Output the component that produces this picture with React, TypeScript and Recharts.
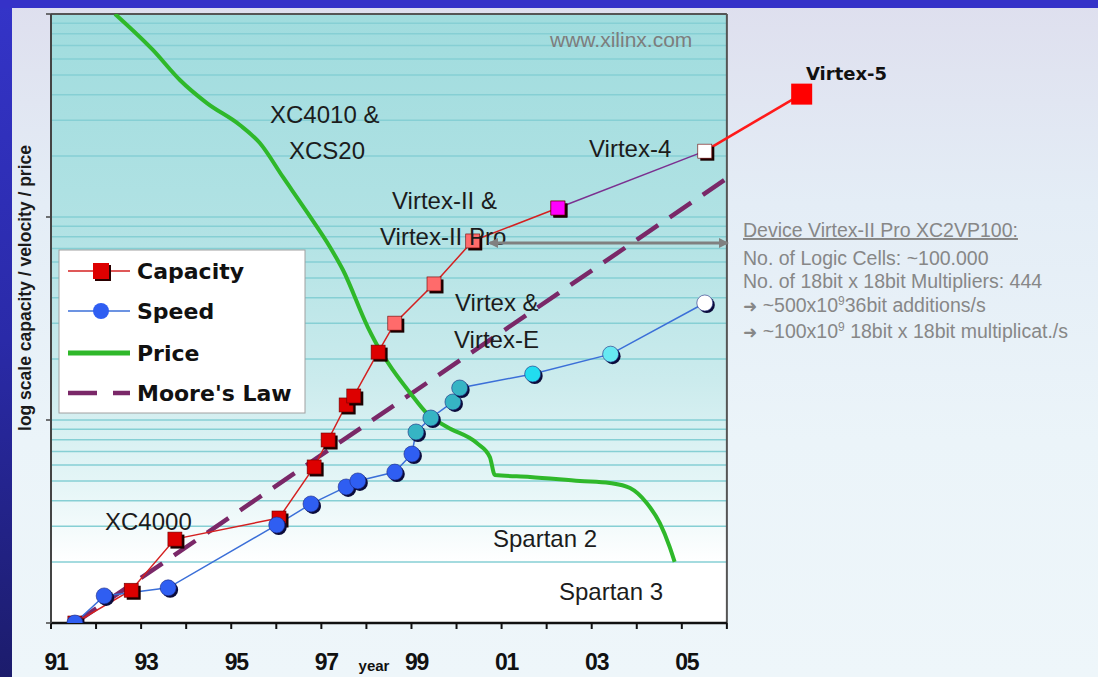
import React from 'react';
import { ComposedChart, Line, XAxis, YAxis, ReferenceArea, ReferenceLine } from 'recharts';

// Years are counted from 1900, so 101 means 2001.
const yearTicks = [91, 92, 93, 94, 95, 96, 97, 98, 99, 100, 101, 102, 103, 104, 105, 106];
const labelledYears = [91, 93, 95, 97, 99, 101, 103, 105];
const decadeTicks = [1, 10, 100, 1000];
const gridValues = [
  2, 3, 4, 5, 6, 7, 8, 9, 10,
  20, 30, 40, 50, 60, 70, 80, 90, 100,
  200, 300, 400, 500, 600, 700, 800, 900,
];

// Capacity (logic density), XC2000 .. Virtex-II Pro
const capacityYears = [91.53, 92.78, 93.75, 96.06, 96.84, 97.15, 97.55, 97.72, 98.26, 98.63, 99.5, 100.36, 102.25];
const capacityValues = [1, 1.45, 2.59, 3.29, 5.87, 7.97, 11.86, 13.13, 21.6, 30.0, 46.8, 76.2, 110.7];
const capacityColors = [
  '#dd0000', '#dd0000', '#dd0000', '#dd0000', '#dd0000', '#dd0000', '#dd0000', '#dd0000', '#dd0000',
  '#ff6b6b', '#ff6b6b', '#ff6b6b', '#ff00ff',
];

// Virtex-II Pro -> Virtex-4
const virtex4Years = [102.25, 105.51];
const virtex4Values = [110.7, 211];
const virtex4Colors = ['#ff00ff', '#ffffff'];

// Virtex-4 -> Virtex-5
const virtex5Years = [105.51, 107.66];
const virtex5Values = [211, 403];

const speedYears = [91.53, 92.18, 93.6, 96.01, 96.77, 97.55, 97.81, 98.63, 99.01, 99.1, 99.43, 99.92, 100.07, 101.69, 103.42, 105.51];
const speedValues = [1, 1.36, 1.49, 3.04, 3.86, 4.68, 5.01, 5.54, 6.8, 8.73, 10.23, 12.27, 14.38, 16.85, 21.1, 37.7];
const speedColors = [
  '#2f5ef2', '#2f5ef2', '#2f5ef2', '#2f5ef2', '#2f5ef2', '#2f5ef2', '#2f5ef2', '#2f5ef2', '#2f5ef2',
  '#36b4c4', '#36b4c4', '#36b4c4', '#36b4c4', '#22dcef', '#66e9f2', '#ffffff',
];

const priceYears = [
  92.42, 93.26, 93.86, 94.46, 95.19, 95.63, 96.15, 96.69, 97.19, 97.48, 98.03, 98.3, 98.59, 98.97,
  99.34, 99.79, 100.45, 100.74, 100.85, 101.63, 102.74, 103.4, 103.85, 104.22, 104.51, 104.73, 104.84,
];
const priceValues = [
  1000, 665, 473, 364, 284, 232, 157, 105, 71.2, 54.8, 28.7, 22.1, 17.6, 13.6,
  10.8, 9.24, 7.7, 6.57, 5.36, 5.24, 5.01, 4.89, 4.62, 3.9, 3.11, 2.37, 2.0,
];

const mooreYears = [91.53, 106];
const mooreValues = [1, 155];

const legendItems = ['Capacity', 'Speed', 'Price', "Moore's Law"];

const toPoints = (years: number[], values: number[]) =>
  years.map((year, i) => ({ year, value: values[i] }));

const capacityData = toPoints(capacityYears, capacityValues);
const virtex4Data = toPoints(virtex4Years, virtex4Values);
const virtex5Data = toPoints(virtex5Years, virtex5Values);
const speedData = toPoints(speedYears, speedValues);
const priceData = toPoints(priceYears, priceValues);
const mooreData = toPoints(mooreYears, mooreValues);

const RED = '#d42020';
const BLUE = '#3b6fd8';
const GREEN = '#2fb82a';
const PURPLE = '#7a2868';
const ANNOT_FONT = '"Liberation Sans", Arial, sans-serif';
const BOLD_FONT = '"DejaVu Sans", Verdana, sans-serif';

const squareDot = (colors: string[]) => (props: any) => {
  const { cx, cy, index } = props;
  if (cx == null || cy == null) return <g key={`sq-${index}`} />;
  return (
    <g key={`sq-${index}`}>
      <rect x={cx - 7 + 2.5} y={cy - 7 + 2.5} width={14} height={14} fill="#1a0000" />
      <rect x={cx - 7} y={cy - 7} width={14} height={14} fill={colors[index]} stroke="#6a0000" strokeWidth={0.6} />
    </g>
  );
};

// Virtex-5 gets a larger flat square; the start point belongs to the Virtex-4 series
const virtex5Dot = (props: any) => {
  const { cx, cy, index } = props;
  if (index === 0 || cx == null || cy == null) return <g key={`v5-${index}`} />;
  return <rect key={`v5-${index}`} x={cx - 10.5} y={cy - 10.5} width={21} height={21} fill="#ff0000" />;
};

const circleDot = (colors: string[]) => (props: any) => {
  const { cx, cy, index } = props;
  if (cx == null || cy == null) return <g key={`c-${index}`} />;
  return (
    <g key={`c-${index}`}>
      <circle cx={cx + 2} cy={cy + 2} r={8} fill="#0b0b3a" />
      <circle cx={cx} cy={cy} r={8} fill={colors[index]} stroke="#1e2a80" strokeWidth={0.6} />
    </g>
  );
};

const YearTick = (props: any) => {
  const { x, y, payload } = props;
  if (!labelledYears.includes(payload.value)) return <g />;
  return (
    <text
      x={x + 5}
      y={y + 41}
      textAnchor="middle"
      fontFamily={ANNOT_FONT}
      fontWeight="bold"
      fontSize={23}
      letterSpacing={-1.2}
      fill="#111"
    >
      {String(payload.value % 100).padStart(2, '0')}
    </text>
  );
};

const Annotation = ({ x, y, children, size = 24 }: any) => (
  <text x={x} y={y} fontFamily={ANNOT_FONT} fontSize={size} fill="#1c1c1c">
    {children}
  </text>
);

export default function App() {
  return (
    <div
      style={{
        position: 'absolute',
        left: 0,
        top: 0,
        width: 1098,
        height: 677,
        overflow: 'hidden',
        background: 'linear-gradient(180deg, #dedfee 0%, #e4edf6 30%, #ebf4f9 65%, #eef6fa 100%)',
      }}
    >
      {/* slide frame */}
      <div
        style={{
          position: 'absolute',
          left: 0,
          top: 0,
          width: 12,
          height: 677,
          background: 'linear-gradient(180deg, #3434c8 0%, #2a2aa8 50%, #1c1c6c 100%)',
        }}
      />
      <div style={{ position: 'absolute', left: 0, top: 0, width: 1098, height: 8, background: '#3532c8' }} />

      <div style={{ position: 'absolute', left: 0, top: 0 }}>
        <ComposedChart width={1098} height={677} margin={{ top: 14, right: 281, bottom: 14, left: 41 }}>
          <defs>
            <linearGradient id="plotFill" x1="0" y1="0" x2="0" y2="1">
              <stop offset="0%" stopColor="#a0dcde" />
              <stop offset="35%" stopColor="#b1e2e4" />
              <stop offset="60%" stopColor="#cbebed" />
              <stop offset="78%" stopColor="#e6f6f7" />
              <stop offset="90%" stopColor="#ffffff" />
              <stop offset="100%" stopColor="#ffffff" />
            </linearGradient>
          </defs>

          <XAxis
            type="number"
            dataKey="year"
            domain={[91, 108]}
            ticks={yearTicks}
            axisLine={false}
            tickLine={{ stroke: '#111', strokeWidth: 2 }}
            tickSize={6}
            tickMargin={0}
            tick={<YearTick />}
            height={40}
            interval={0}
          />
          <YAxis
            type="number"
            scale="log"
            domain={[1, 1000]}
            allowDataOverflow
            ticks={decadeTicks}
            tickFormatter={() => ''}
            axisLine={{ stroke: '#444', strokeWidth: 2 }}
            tickLine={{ stroke: '#444', strokeWidth: 1.5 }}
            tickSize={5}
            width={10}
          />

          <ReferenceArea x1={91} x2={106} y1={1} y2={1000} fill="url(#plotFill)" fillOpacity={1} stroke="none" zIndex={-300} />
          {gridValues.map((v) => (
            <ReferenceLine
              key={v}
              segment={[{ x: 91, y: v }, { x: 106, y: v }]}
              stroke="#86cfd4"
              strokeWidth={1.5}
              zIndex={-200}
            />
          ))}
          <ReferenceLine segment={[{ x: 91, y: 1000 }, { x: 106, y: 1000 }]} stroke="#555" strokeWidth={2} zIndex={-150} />
          <ReferenceLine segment={[{ x: 106, y: 1 }, { x: 106, y: 1000 }]} stroke="#555" strokeWidth={2} zIndex={-150} />
          <ReferenceLine segment={[{ x: 91, y: 1 }, { x: 106, y: 1 }]} stroke="#111" strokeWidth={2.5} zIndex={-150} />

          <Line
            data={mooreData}
            dataKey="value"
            type="linear"
            stroke={PURPLE}
            strokeWidth={4.5}
            strokeDasharray="26 14"
            dot={false}
            isAnimationActive={false}
          />
          <Line
            data={priceData}
            dataKey="value"
            type="monotone"
            stroke={GREEN}
            strokeWidth={4}
            dot={false}
            isAnimationActive={false}
          />
          <Line
            data={virtex5Data}
            dataKey="value"
            type="linear"
            stroke="#ff1a1a"
            strokeWidth={2.5}
            dot={virtex5Dot}
            isAnimationActive={false}
          />
          <Line
            data={capacityData}
            dataKey="value"
            type="linear"
            stroke={RED}
            strokeWidth={1.5}
            dot={squareDot(capacityColors)}
            isAnimationActive={false}
          />
          <Line
            data={virtex4Data}
            dataKey="value"
            type="linear"
            stroke="#7b3090"
            strokeWidth={1.5}
            dot={squareDot(virtex4Colors)}
            isAnimationActive={false}
          />
          <Line
            data={speedData}
            dataKey="value"
            type="linear"
            stroke={BLUE}
            strokeWidth={1.5}
            dot={circleDot(speedColors)}
            isAnimationActive={false}
          />
        </ComposedChart>
      </div>

      {/* labels, legend and the XC2VP100 note */}
      <svg width={1098} height={677} style={{ position: 'absolute', left: 0, top: 0, pointerEvents: 'none' }}>
        <defs>
          <marker id="arrowHead" markerWidth="10" markerHeight="10" refX="8" refY="5" orient="auto-start-reverse" markerUnits="userSpaceOnUse">
            <path d="M0,0 L10,5 L0,10 z" fill="#808080" />
          </marker>
        </defs>

        <text
          transform="translate(31 288) rotate(-90)"
          textAnchor="middle"
          fontFamily={ANNOT_FONT}
          fontWeight="bold"
          fontSize={17.5}
          fill="#1a1a1a"
        >
          log scale  capacity / velocity / price
        </text>

        <text x={550} y={47} fontFamily={ANNOT_FONT} fontSize={21} fill="#7d7d7d">www.xilinx.com</text>

        <Annotation x={270} y={123}>XC4010 &amp;</Annotation>
        <Annotation x={289} y={159}>XCS20</Annotation>
        <Annotation x={589} y={157}>Virtex-4</Annotation>
        <Annotation x={392} y={209}>Virtex-II &amp;</Annotation>
        <Annotation x={380} y={245}>Virtex-II Pro</Annotation>
        <Annotation x={455} y={311}>Virtex &amp;</Annotation>
        <Annotation x={454} y={348}>Virtex-E</Annotation>
        <Annotation x={105} y={530}>XC4000</Annotation>
        <Annotation x={493} y={547}>Spartan 2</Annotation>
        <Annotation x={559} y={600}>Spartan 3</Annotation>

        <text x={806} y={80} fontFamily={BOLD_FONT} fontWeight="bold" fontSize={18} fill="#111">Virtex-5</text>

        <line x1={490} y1={243} x2={727} y2={243} stroke="#808080" strokeWidth={3}
          markerStart="url(#arrowHead)" markerEnd="url(#arrowHead)" />

        <g fontFamily={ANNOT_FONT} fontSize={19.5} fill="#878787">
          <text x={743} y={237} textDecoration="underline">Device Virtex-II Pro XC2VP100:</text>
          <text x={743} y={265}>No. of Logic Cells: ~100.000</text>
          <text x={743} y={288}>No. of 18bit x 18bit Multipliers: 444</text>
          <text x={743} y={312}>
            <tspan fontFamily={BOLD_FONT} fontSize={17}>➜</tspan> ~500x10<tspan dy={-7} fontSize={12}>9</tspan>
            <tspan dy={7}>36bit additions/s</tspan>
          </text>
          <text x={743} y={338}>
            <tspan fontFamily={BOLD_FONT} fontSize={17}>➜</tspan> ~100x10<tspan dy={-7} fontSize={12}>9</tspan>
            <tspan dy={7}> 18bit x 18bit multiplicat./s</tspan>
          </text>
        </g>

        <text x={374} y={671} textAnchor="middle" fontFamily={ANNOT_FONT} fontWeight="bold" fontSize={15} fill="#111">year</text>

        {/* legend */}
        <rect x={59} y={250} width={246} height={163} fill="#ffffff" stroke="#a0a0a0" strokeWidth={1} />
        <line x1={68} y1={271} x2={130} y2={271} stroke={RED} strokeWidth={1.5} />
        <rect x={95} y={265} width={16} height={16} fill="#2a0000" />
        <rect x={93} y={263} width={16} height={16} fill="#dd0000" />
        <line x1={68} y1={311} x2={130} y2={311} stroke={BLUE} strokeWidth={1.5} />
        <circle cx={101} cy={311} r={8} fill="#2f5ef2" />
        <line x1={68} y1={353} x2={130} y2={353} stroke={GREEN} strokeWidth={5} />
        <line x1={68} y1={393} x2={130} y2={393} stroke={PURPLE} strokeWidth={4.5} strokeDasharray="29 16" />
        {legendItems.map((name, i) => (
          <text
            key={name}
            x={137}
            y={[279, 319, 361, 401][i]}
            fontFamily={BOLD_FONT}
            fontWeight="bold"
            fontSize={22}
            fill="#111"
          >
            {name}
          </text>
        ))}
      </svg>
    </div>
  );
}
